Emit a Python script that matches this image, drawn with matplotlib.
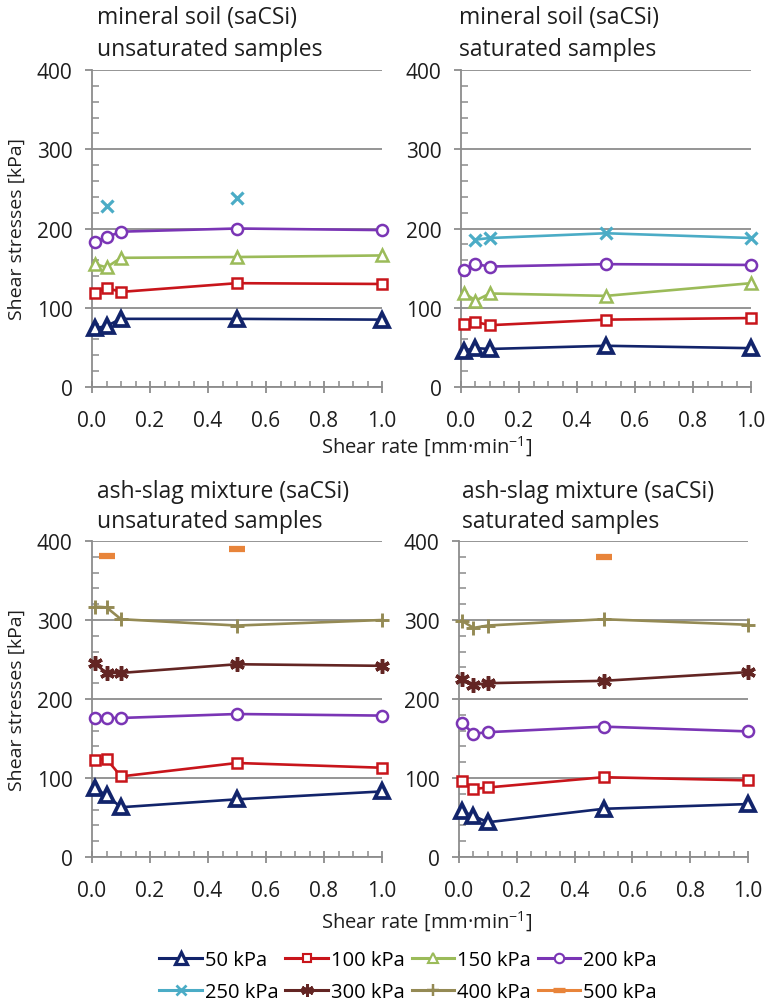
import numpy as np
import matplotlib
matplotlib.use('Agg')
import matplotlib.pyplot as plt
from matplotlib.lines import Line2D
from matplotlib.ticker import MultipleLocator, FormatStrFormatter

plt.rcParams['font.family'] = ['Open Sans', 'DejaVu Sans']
plt.rcParams['mathtext.default'] = 'regular'

nan = np.nan
rates = [0.01, 0.05, 0.1, 0.5, 1.0]

# mineral soil, unsaturated
ms_unsat_50 = [74, 77, 86, 86, 85]
ms_unsat_100 = [119, 125, 120, 131, 130]
ms_unsat_150 = [155, 151, 163, 164, 166]
ms_unsat_200 = [183, 189, 196, 200, 198]
ms_unsat_250 = [nan, 228, nan, 238, nan]

# mineral soil, saturated
ms_sat_50 = [46, 49, 48, 52, 49]
ms_sat_100 = [79, 82, 78, 85, 87]
ms_sat_150 = [119, 109, 118, 115, 131]
ms_sat_200 = [148, 155, 152, 155, 154]
ms_sat_250 = [nan, 186, 188, 194, 188]

# ash-slag mixture, unsaturated
as_unsat_50 = [87, 78, 63, 73, 83]
as_unsat_100 = [123, 124, 102, 119, 113]
as_unsat_200 = [176, 176, 176, 181, 179]
as_unsat_300 = [245, 233, 233, 244, 242]
as_unsat_400 = [317, 316, 301, 293, 300]
as_unsat_500 = [nan, 381, nan, 390, nan]

# ash-slag mixture, saturated
as_sat_50 = [58, 52, 44, 61, 67]
as_sat_100 = [96, 86, 88, 101, 97]
as_sat_200 = [170, 156, 158, 165, 159]
as_sat_300 = [225, 218, 220, 223, 234]
as_sat_400 = [299, 290, 293, 301, 294]
as_sat_500 = [nan, nan, nan, 380, nan]

pressures = ['50 kPa', '100 kPa', '150 kPa', '200 kPa', '250 kPa', '300 kPa', '400 kPa', '500 kPa']

styles = {
    '50 kPa': dict(color='#12246b', marker='^', ms=10.5, mew=2.7),
    '100 kPa': dict(color='#c8151b', marker='s', ms=7, mew=1.8),
    '150 kPa': dict(color='#9bbb59', marker='^', ms=9, mew=1.8),
    '200 kPa': dict(color='#7a35b5', marker='o', ms=8, mew=1.8),
    '250 kPa': dict(color='#4bacc6', marker='x', ms=8.5, mew=2.3),
    '300 kPa': dict(color='#632523', marker=(6, 2, 0), ms=10.5, mew=2.5),
    '400 kPa': dict(color='#948a54', marker='+', ms=10.5, mew=2.1),
    '500 kPa': dict(color='#e8843a', marker='_', ms=11, mew=4.5),
}

panels = [
    ('mineral soil (saCSi)', 'unsaturated samples',
     {'50 kPa': ms_unsat_50, '100 kPa': ms_unsat_100, '150 kPa': ms_unsat_150,
      '200 kPa': ms_unsat_200, '250 kPa': ms_unsat_250}),
    ('mineral soil (saCSi)', 'saturated samples',
     {'50 kPa': ms_sat_50, '100 kPa': ms_sat_100, '150 kPa': ms_sat_150,
      '200 kPa': ms_sat_200, '250 kPa': ms_sat_250}),
    ('ash-slag mixture (saCSi)', 'unsaturated samples',
     {'50 kPa': as_unsat_50, '100 kPa': as_unsat_100, '200 kPa': as_unsat_200,
      '300 kPa': as_unsat_300, '400 kPa': as_unsat_400, '500 kPa': as_unsat_500}),
    ('ash-slag mixture (saCSi)', 'saturated samples',
     {'50 kPa': as_sat_50, '100 kPa': as_sat_100, '200 kPa': as_sat_200,
      '300 kPa': as_sat_300, '400 kPa': as_sat_400, '500 kPa': as_sat_500}),
]

W, H = 766, 1004
def fx(px):
    return px / W
def fy(py):
    return 1 - py / H

fig = plt.figure(figsize=(W / 100, H / 100), dpi=100)

# axes boxes in pixels: left, top, right, bottom
boxes = [(92, 71, 382, 388), (461, 71, 751, 388), (92, 542, 382, 858), (459, 542, 748, 858)]
title_pos = [(97, 18, 50), (459, 18, 50), (97, 492, 522), (462, 492, 522)]

grey = '#8c8c8c'
txt = '#1e1e1e'
for (t1, t2, series), (l, t, r, b), (tx, ty1, ty2) in zip(panels, boxes, title_pos):
    ax = fig.add_axes([fx(l), fy(b), fx(r) - fx(l), fy(t) - fy(b)])
    for name, vals in series.items():
        st = styles[name]
        ax.plot(rates, vals, color=st['color'], lw=1.9, marker=st['marker'], ms=st['ms'],
                mew=st['mew'], mfc='white', mec=st['color'], clip_on=False, zorder=3)
    ax.set_xlim(0, 1.0)
    ax.set_ylim(0, 400)
    ax.yaxis.set_major_locator(MultipleLocator(100))
    ax.yaxis.set_minor_locator(MultipleLocator(20))
    ax.xaxis.set_major_locator(MultipleLocator(0.2))
    ax.xaxis.set_minor_locator(MultipleLocator(0.05))
    ax.xaxis.set_major_formatter(FormatStrFormatter('%.1f'))
    ax.grid(axis='y', which='major', color=grey, lw=1.3)
    ax.set_axisbelow(True)
    for s in ['top', 'right']:
        ax.spines[s].set_visible(False)
    for s in ['left', 'bottom']:
        ax.spines[s].set_color(grey)
        ax.spines[s].set_linewidth(1.3)
    ax.tick_params(axis='y', which='major', direction='out', length=5, width=1.3, color=grey,
                   pad=9, labelsize=15, labelcolor=txt)
    ax.tick_params(axis='y', which='minor', direction='in', length=5, width=1.1, color=grey)
    ax.tick_params(axis='x', which='major', direction='inout', length=9, width=1.3, color=grey,
                   pad=12, labelsize=15, labelcolor=txt)
    ax.tick_params(axis='x', which='minor', direction='in', length=4.5, width=1.1, color=grey)
    fig.text(fx(tx), fy(ty1), t1, fontsize=16.5, ha='left', va='center', color=txt)
    fig.text(fx(tx), fy(ty2), t2, fontsize=16.5, ha='left', va='center', color=txt)

for yc in [(71 + 388) / 2, (542 + 858) / 2]:
    fig.text(fx(17), fy(yc), 'Shear stresses [kPa]', rotation=90, fontsize=14,
             ha='center', va='center', color=txt)
for yc in [447, 922]:
    fig.text(fx(427), fy(yc), 'Shear rate [mm·min$^{-1}$]', fontsize=14.5,
             ha='center', va='center', color=txt)

handles = {}
for name in pressures:
    st = styles[name]
    handles[name] = Line2D([], [], color=st['color'], lw=2.2, marker=st['marker'],
                           ms=st['ms'] * 0.85, mew=st['mew'] * 0.85, mfc='white', mec=st['color'])
# legend fills column by column, so interleave the two rows
order = ['50 kPa', '250 kPa', '100 kPa', '300 kPa', '150 kPa', '400 kPa', '200 kPa', '500 kPa']
fig.legend([handles[n] for n in order], order, loc='center', bbox_to_anchor=(fx(408), fy(977)),
           ncol=4, frameon=False, fontsize=14.5, handlelength=2.1, handletextpad=0.15,
           columnspacing=0.35, labelspacing=0.62, borderpad=0, borderaxespad=0)

fig.savefig('out.png', dpi=100)
